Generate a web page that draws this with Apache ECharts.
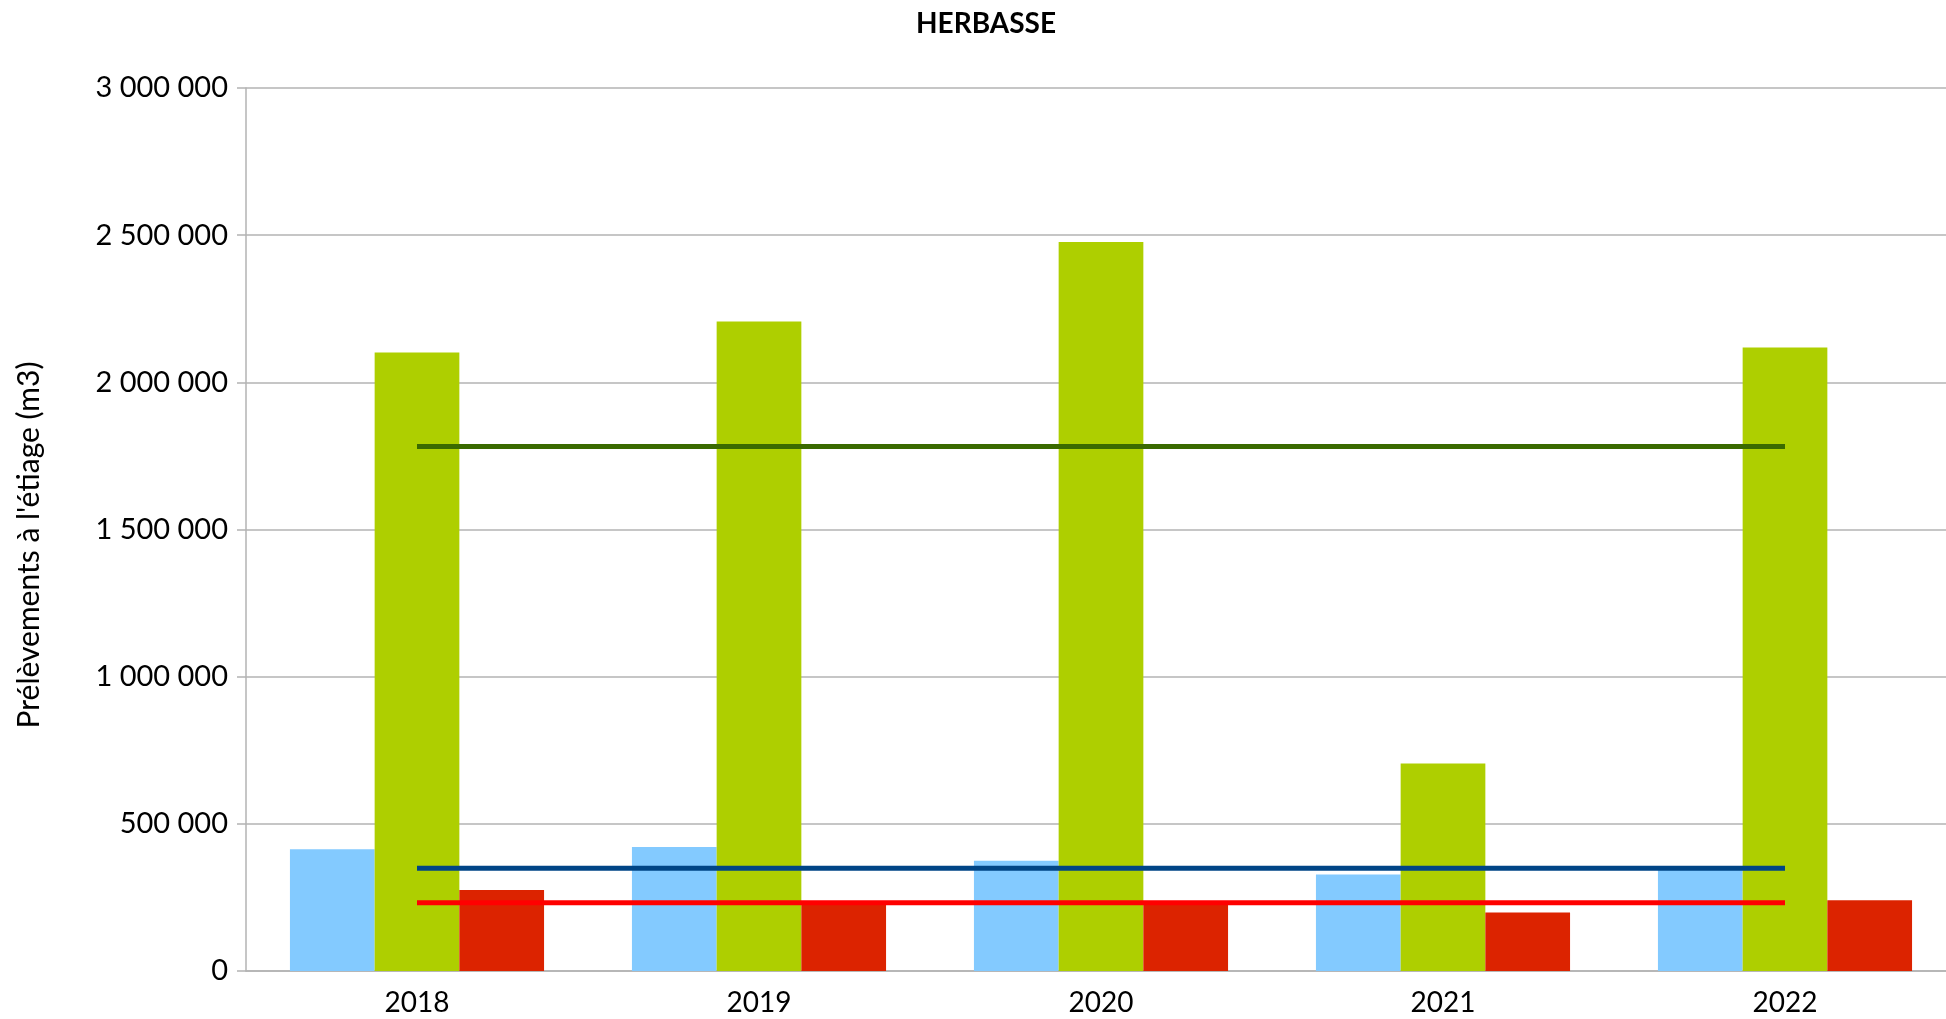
<!DOCTYPE html>
<html>
<head>
<meta charset="utf-8">
<title>HERBASSE</title>
<script src="https://cdn.jsdelivr.net/npm/echarts@6/dist/echarts.min.js"></script>
<style>
  html, body { margin: 0; padding: 0; background: #fff; }
  #chart { width: 1946px; height: 1019px; }
</style>
</head>
<body>
<div id="chart"></div>
<script>
// values (m3)
const years = ['2018', '2019', '2020', '2021', '2022']
const blueBars = [414000, 421000, 375000, 328000, 343000]
const greenBars = [2101000, 2207000, 2477000, 705000, 2118000]
const redBars = [275000, 228000, 230000, 199000, 240000]
const greenLine = [1782000, 1782000, 1782000, 1782000, 1782000]
const blueLine = [349000, 349000, 349000, 349000, 349000]
const redLine = [232000, 232000, 232000, 232000, 232000]

const font = 'Lato'
const fmt = v => String(v).replace(/\B(?=(\d{3})+(?!\d))/g, ' ')

const chart = echarts.init(document.getElementById('chart'), null, { renderer: 'canvas' })

const bar = (data, color) => ({
  type: 'bar',
  data,
  barGap: 0,
  barCategoryGap: '25.7%',
  itemStyle: { color },
  z: 2
})

const line = (data, color) => ({
  type: 'line',
  data,
  symbol: 'none',
  lineStyle: { color, width: 5 },
  z: 5
})

chart.setOption({
  animation: false,
  title: {
    text: 'HERBASSE',
    left: 911,
    top: 5,
    textStyle: { fontFamily: font, fontSize: 28, fontWeight: 'bold', color: '#000' }
  },
  graphic: [{
    type: 'text',
    x: 29,
    y: 545,
    rotation: Math.PI / 2,
    style: {
      text: "Prélèvements à l'étiage (m3)",
      fontFamily: font,
      fontSize: 30,
      fill: '#000',
      align: 'center',
      verticalAlign: 'middle'
    }
  }],
  // the plot runs a little past the right edge of the picture
  grid: { left: 246, top: 88, width: 1710, height: 883, outerBoundsMode: 'none' },
  xAxis: {
    type: 'category',
    data: years,
    axisLine: { lineStyle: { color: '#b3b3b3', width: 1.5 } },
    axisTick: { length: 9, lineStyle: { color: '#b3b3b3', width: 1.5 } },
    axisLabel: { fontFamily: font, fontSize: 28, color: '#000', margin: 18 }
  },
  yAxis: {
    type: 'value',
    min: 0,
    max: 3000000,
    interval: 500000,
    axisLine: { show: true, lineStyle: { color: '#b3b3b3', width: 1.5 } },
    axisTick: { show: true, length: 9, lineStyle: { color: '#b3b3b3', width: 1.5 } },
    splitLine: { lineStyle: { color: '#b3b3b3', width: 1.5 } },
    axisLabel: { fontFamily: font, fontSize: 29, color: '#000', margin: 18, formatter: fmt }
  },
  series: [
    bar(blueBars, '#83caff'),
    bar(greenBars, '#aecf00'),
    bar(redBars, '#dc2300'),
    line(greenLine, '#3a6a00'),
    line(blueLine, '#004586'),
    line(redLine, '#ff0000')
  ]
})
</script>
</body>
</html>
